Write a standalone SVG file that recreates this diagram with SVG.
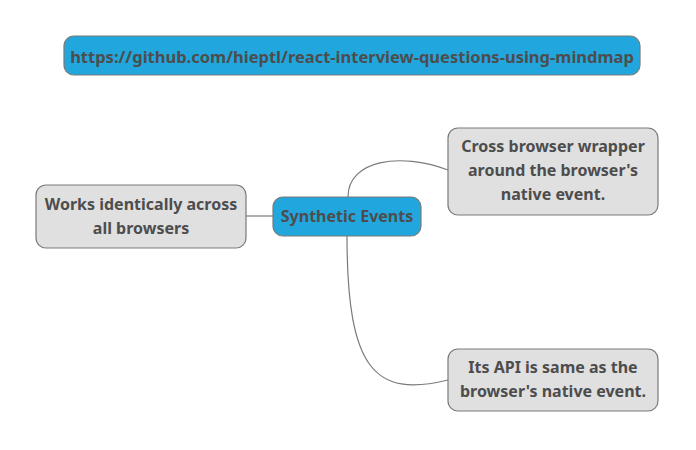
<svg xmlns="http://www.w3.org/2000/svg" width="696" height="450" viewBox="0 0 696 450">
<style>
.box{stroke:#7a7a7a;stroke-width:1.2}
.blue{fill:#21a7de}
.grey{fill:#e0e0e0}
text{font-family:"Noto Sans","Open Sans",sans-serif;font-weight:bold;font-size:16px;fill:#4d4d4d;text-anchor:middle;dominant-baseline:central}
.url{font-size:16.5px}
.conn{fill:none;stroke:#7a7a7a;stroke-width:1.2}
</style>
<rect width="696" height="450" fill="#ffffff"/>
<g id="connectors">
<path class="conn" d="M246,216 L273,216"/>
<path class="conn" d="M348,197 C348,160 400,152 448,170"/>
<path class="conn" d="M347,236 C347,370 375,398 448,380"/>
</g>
<g id="url">
<rect class="box blue" x="64" y="36" width="576" height="39" rx="10"/>
<text class="url" x="352" y="56">https://github.com/hieptl/react-interview-questions-using-mindmap</text>
</g>
<g id="central">
<rect class="box blue" x="273" y="197" width="148" height="39" rx="10"/>
<text x="347" y="216">Synthetic Events</text>
</g>
<g id="left">
<rect class="box grey" x="36" y="185" width="210" height="63" rx="10"/>
<text x="141" y="204">Works identically across</text>
<text x="141" y="228">all browsers</text>
</g>
<g id="topright">
<rect class="box grey" x="448" y="128" width="210" height="87" rx="10"/>
<text x="553" y="146">Cross browser wrapper</text>
<text x="553" y="170">around the browser's</text>
<text x="553" y="194">native event.</text>
</g>
<g id="bottomright">
<rect class="box grey" x="448" y="349" width="210" height="62" rx="10"/>
<text x="553" y="367">Its API is same as the</text>
<text x="553" y="391">browser's native event.</text>
</g>
</svg>
